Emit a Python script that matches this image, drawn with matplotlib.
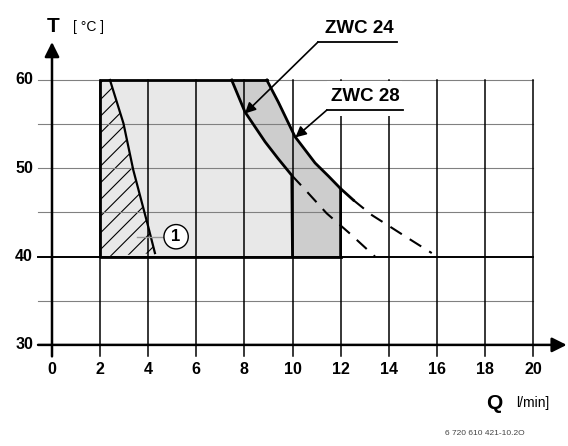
import matplotlib.pyplot as plt
from matplotlib.patches import Polygon, Rectangle

plt.rcParams['font.family'] = ['Liberation Sans', 'DejaVu Sans']
plt.rcParams['hatch.linewidth'] = 0.8

# axis ticks
q_ticks = [0, 2, 4, 6, 8, 10, 12, 14, 16, 18, 20]
t_ticks = [30, 40, 50, 60]
t_minor = [35, 45, 55]

# curve ZWC 24 (solid part, then dashed continuation)
zwc24_q = [7.47, 8.02, 8.44, 8.86, 9.4, 9.97]
zwc24_t = [60.0, 56.4, 54.7, 53.0, 51.1, 49.2]
zwc24_dash_q = [9.97, 10.45, 11.42, 12.39, 13.43]
zwc24_dash_t = [49.2, 47.8, 44.9, 42.6, 40.0]

# curve ZWC 28
zwc28_q = [8.93, 9.41, 10.10, 10.94, 11.5, 12.0, 12.53]
zwc28_t = [60.0, 57.5, 53.6, 50.6, 49.1, 47.7, 46.4]
zwc28_dash_q = [12.53, 13.3, 14.05, 14.68, 15.79]
zwc28_dash_t = [46.4, 44.7, 43.4, 42.3, 40.4]

# hatched zone (1)
zone1_q = [2.41, 2.97, 3.38, 4.0, 4.28]
zone1_t = [60.0, 55.1, 49.8, 43.4, 40.4]

q_min, q24_max, q28_max = 2, 10, 12
t_min, t_max = 40, 60

fig = plt.figure(figsize=(5.68, 4.46), dpi=100)
ax = fig.add_axes([0, 0, 1, 1])
ax.set_xlim(-2.162, 21.455)
ax.set_ylim(18.55, 69.06)
ax.axis('off')

# fills
c24 = list(zip(zwc24_q, zwc24_t))
c28 = [p for p in zip(zwc28_q, zwc28_t) if p[0] <= q28_max]
light = [(q_min, t_min), (q_min, t_max)] + c24 + [(q24_max, t_min)]
ax.add_patch(Polygon(light, closed=True, fc='#e8e8e8', ec='none', zorder=1))
dark = c24 + [(q24_max, t_min), (q28_max, t_min)] + c28[::-1]
ax.add_patch(Polygon(dark, closed=True, fc='#cdcdcd', ec='none', zorder=1))
hatch = [(q_min, t_min), (q_min, t_max)] + list(zip(zone1_q, zone1_t))
ax.add_patch(Polygon(hatch, closed=True, fc='none', ec='black', lw=0, hatch='//', zorder=1.5))

# grid
for t in t_minor + [60, 50]:
    ax.plot([-0.58, 20], [t, t], color='#808080', lw=0.8, zorder=2)
ax.plot([-0.58, 20], [40, 40], color='black', lw=1.4, zorder=2)
for q in q_ticks[1:]:
    ax.plot([q, q], [28.7, 60], color='black', lw=1.1, zorder=2)

# white box under ZWC 28 label
ax.add_patch(Rectangle((11.45, 55.9), 3.1, 3.95, fc='white', ec='none', zorder=2.5))

# axes with arrows
ax.annotate('', xy=(21.4, 30), xytext=(-0.58, 30),
            arrowprops=dict(arrowstyle='-|>', color='black', lw=1.8, mutation_scale=22,
                            shrinkA=0, shrinkB=0), zorder=3)
ax.annotate('', xy=(0, 64.3), xytext=(0, 28.7),
            arrowprops=dict(arrowstyle='-|>', color='black', lw=1.8, mutation_scale=22,
                            shrinkA=0, shrinkB=0), zorder=3)

# region borders
ax.plot([q28_max, q_min, q_min, zwc28_q[0]], [t_min, t_min, t_max, t_max],
        color='black', lw=2.0, zorder=4)
ax.plot([q28_max] + [p[0] for p in c28][::-1], [t_min] + [p[1] for p in c28][::-1],
        color='black', lw=2.0, zorder=4)
ax.plot(zwc28_q[-2:], zwc28_t[-2:], color='black', lw=2.0, zorder=4)
ax.plot(zwc24_q + [q24_max], zwc24_t + [t_min], color='black', lw=2.0, zorder=4)
ax.plot(zone1_q, zone1_t, color='black', lw=1.6, zorder=4)
ax.plot(zwc24_dash_q, zwc24_dash_t, color='black', lw=1.5, dashes=(6.5, 4.5), zorder=4)
ax.plot(zwc28_dash_q, zwc28_dash_t, color='black', lw=1.5, dashes=(6.5, 4.5), zorder=4)

# tick labels
for q in q_ticks:
    ax.text(q, 27.16, str(q), ha='center', va='center', fontsize=11.5, fontweight='bold')
for t in t_ticks:
    ax.text(-0.79, t, str(t), ha='right', va='center', fontsize=11.5, fontweight='bold')

# axis titles
ax.text(0.04, 66.1, 'T', ha='center', va='center', fontsize=15, fontweight='bold')
ax.text(1.5, 66.0, '[ °C ]', ha='center', va='center', fontsize=10)
ax.text(18.38, 23.36, 'Q', ha='center', va='center', fontsize=15, fontweight='bold')
ax.text(20.0, 23.4, 'l/min]', ha='center', va='center', fontsize=10)

# ZWC labels
ax.text(12.77, 65.83, 'ZWC 24', ha='center', va='center', fontsize=13.5, fontweight='bold', zorder=5)
ax.plot([11.06, 14.35], [64.3, 64.3], color='black', lw=1.3, zorder=5)
ax.annotate('', xy=(8.02, 56.2), xytext=(11.06, 64.3),
            arrowprops=dict(arrowstyle='-|>', color='black', lw=1.2, mutation_scale=16,
                            shrinkA=0, shrinkB=0), zorder=5)
ax.text(13.04, 58.1, 'ZWC 28', ha='center', va='center', fontsize=13.5, fontweight='bold', zorder=5)
ax.plot([11.43, 14.6], [56.6, 56.6], color='black', lw=1.3, zorder=5)
ax.annotate('', xy=(10.12, 53.5), xytext=(11.43, 56.6),
            arrowprops=dict(arrowstyle='-|>', color='black', lw=1.2, mutation_scale=16,
                            shrinkA=0, shrinkB=0), zorder=5)

# marker (1)
ax.plot([3.52, 4.7], [42.2, 42.2], color='#999999', lw=1.0, zorder=5)
ax.text(5.16, 42.25, '1', ha='center', va='center', fontsize=12, fontweight='bold', zorder=6,
        bbox=dict(boxstyle='circle,pad=0.28', fc='white', ec='black', lw=1.0))

ax.text(18.0, 20.0, '6 720 610 421-10.2O', ha='center', va='center', fontsize=6, color='#444444')

fig.savefig('out.png', dpi=100)
